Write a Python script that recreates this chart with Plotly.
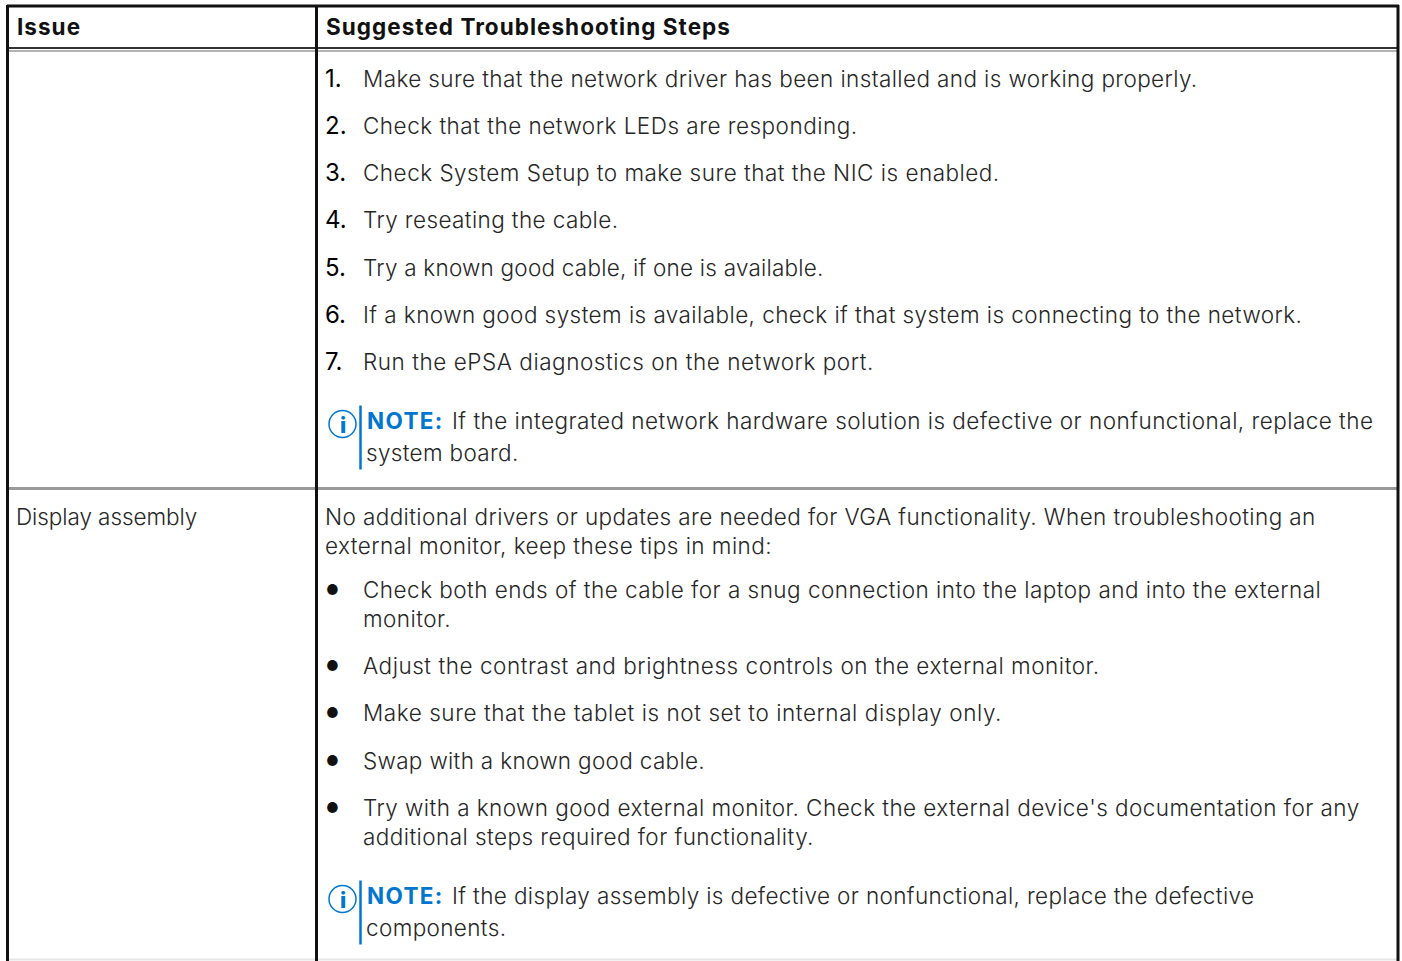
import plotly.graph_objects as go

WIDTH, HEIGHT = 1402, 961
FONT = "Inter"
TEXT_COLOR = "#262626"
BLUE = "#0076CE"
BODY_SIZE = 22.5
HEAD_SIZE = 22.5
BODY_WEIGHT = 300

headers = ["Issue", "Suggested Troubleshooting Steps"]
header_x = [15.5, 325]
header_y = 26

numbers = ["1.", "2.", "3.", "4.", "5.", "6.", "7."]
number_steps = [
    "Make sure that the network driver has been installed and is working properly.",
    "Check that the network LEDs are responding.",
    "Check System Setup to make sure that the NIC is enabled.",
    "Try reseating the cable.",
    "Try a known good cable, if one is available.",
    "If a known good system is available, check if that system is connecting to the network.",
    "Run the ePSA diagnostics on the network port.",
]
number_y = [78.5, 125.5, 172.5, 219.5, 267, 314.5, 361.5]
number_track = [0.39, 0.49, 0.49, 0.39, 0.22, 0.43, 0.54]

first_col = ["Display assembly"]
first_col_y = [516]
first_col_track = [-0.07]

plain_lines = [
    "No additional drivers or updates are needed for VGA functionality. When troubleshooting an",
    "external monitor, keep these tips in mind:",
]
plain_y = [516, 545]
plain_track = [0.40, 0.45]

bullet_lines = [
    "Check both ends of the cable for a snug connection into the laptop and into the external",
    "Adjust the contrast and brightness controls on the external monitor.",
    "Make sure that the tablet is not set to internal display only.",
    "Swap with a known good cable.",
    "Try with a known good external monitor. Check the external device's documentation for any",
]
bullet_y = [589, 665, 712.5, 760, 807.5]
bullet_track = [0.47, 0.53, 0.56, 0.32, 0.44]
wrap_lines = ["monitor.", "additional steps required for functionality."]
wrap_y = [618, 836]
wrap_track = [0.45, 0.44]

note_label = "NOTE:"
note_first = [
    "If the integrated network hardware solution is defective or nonfunctional, replace the",
    "If the display assembly is defective or nonfunctional, replace the defective",
]
note_first_track = [0.47, 0.37]
note_second = ["system board.", "components."]
note_second_track = [0.33, 0.36]
note_y = [420.5, 895.5]
note_second_y = [452.5, 927.5]

fig = go.Figure()
ann = []


def text(x, y, s, color=TEXT_COLOR, size=BODY_SIZE, weight=BODY_WEIGHT, track=0.0):
    ann.append(dict(x=x, y=y, text=f'<span style="letter-spacing:{track}px">{s}</span>',
                    xref="x", yref="y", xanchor="left", yanchor="middle",
                    showarrow=False, align="left", borderpad=0,
                    font=dict(family=FONT, size=size, color=color, weight=weight)))


for x, s in zip(header_x, headers):
    text(x, header_y, s, color="#111111", size=HEAD_SIZE, weight=700, track=1.03)
for n, s, y, t in zip(numbers, number_steps, number_y, number_track):
    text(324, y, n, color="#000000", size=24, weight=400, track=0)
    text(361.5, y, s, track=t)
for s, y, t in zip(first_col, first_col_y, first_col_track):
    text(14.5, y, s, track=t)
for s, y, t in zip(plain_lines, plain_y, plain_track):
    text(324, y, s, track=t)
for s, y, t in zip(bullet_lines, bullet_y, bullet_track):
    text(325.2, y, "●", size=14, color="#111111", weight=400, track=0)
    text(361.5, y, s, track=t)
for s, y, t in zip(wrap_lines, wrap_y, wrap_track):
    text(361.5, y, s, track=t)
shapes = []
for s, s2, y, y2, t, t2 in zip(note_first, note_second, note_y, note_second_y,
                               note_first_track, note_second_track):
    text(366, y, note_label, color=BLUE, weight=700, track=1.35)
    text(450.5, y, s, track=t)
    text(365, y2, s2, track=t2)
    shapes.append(dict(type="line", x0=360.5, x1=360.5, y0=y - 15, y1=y + 49,
                       line=dict(color=BLUE, width=2.5)))
    shapes.append(dict(type="circle", x0=329, x1=356, y0=y - 10, y1=y + 17,
                       line=dict(color=BLUE, width=1.5)))
    text(339, y + 4.5, "i", color=BLUE, size=22, weight=800, track=0)


def hline(y, color, w, x0=7, x1=1399):
    shapes.append(dict(type="line", x0=x0, x1=x1, y0=y, y1=y, line=dict(color=color, width=w)))


def vline(x, color, w, y0=5, y1=961):
    shapes.append(dict(type="line", x0=x, x1=x, y0=y0, y1=y1, line=dict(color=color, width=w)))


hline(6, "#111111", 3)
hline(48, "#333333", 2)
hline(51, "#999999", 1.5)
hline(488.5, "#999999", 3)
hline(959.5, "#e6e6e6", 2)
vline(7.5, "#111111", 3)
vline(316.5, "#111111", 3)
vline(1398, "#111111", 3)

fig.update_layout(
    width=WIDTH, height=HEIGHT, margin=dict(l=0, r=0, t=0, b=0),
    paper_bgcolor="white", plot_bgcolor="white", showlegend=False,
    xaxis=dict(range=[0, WIDTH], visible=False, fixedrange=True),
    yaxis=dict(range=[HEIGHT, 0], visible=False, fixedrange=True),
    annotations=ann, shapes=shapes,
)
fig.write_html("out.html", config={"displayModeBar": False},
               post_script="document.body.style.margin='0';document.documentElement.style.overflow='hidden';")
